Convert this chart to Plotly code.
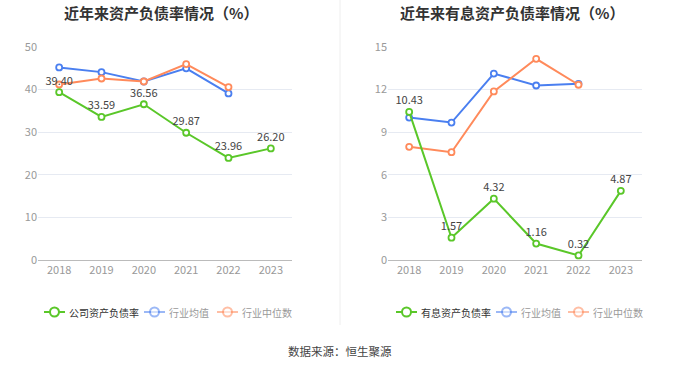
import plotly.graph_objects as go

years = ["2018", "2019", "2020", "2021", "2022", "2023"]
company_debt = [39.40, 33.59, 36.56, 29.87, 23.96, 26.20]
industry_avg_debt = [45.2, 44.1, 41.9, 45.0, 39.1]
industry_med_debt = [41.2, 42.6, 41.9, 46.0, 40.6]

company_int = [10.43, 1.57, 4.32, 1.16, 0.32, 4.87]
industry_avg_int = [10.03, 9.68, 13.13, 12.29, 12.41]
industry_med_int = [7.97, 7.59, 11.87, 14.17, 12.34]

GREEN = "#5ac729"
BLUE = "#4a7ff0"
ORANGE = "#ff8a5b"
FONT = "Noto Sans CJK SC"

fig = go.Figure()

def add_series(x, y, color, xa, ya, labels=False):
    fig.add_trace(go.Scatter(
        x=x, y=y, xaxis=xa, yaxis=ya,
        mode="lines+markers+text" if labels else "lines+markers",
        line=dict(color=color, width=2),
        marker=dict(symbol="circle", size=6, color="white",
                    line=dict(color=color, width=1.8)),
        text=[f"{v:.2f}" for v in y] if labels else None,
        textposition="top center",
        textfont=dict(family=FONT, size=11, color="#444"),
        showlegend=False, hoverinfo="skip", cliponaxis=False,
    ))

add_series(years[:5], industry_avg_debt, BLUE, "x", "y")
add_series(years[:5], industry_med_debt, ORANGE, "x", "y")
add_series(years, company_debt, GREEN, "x", "y", labels=True)
add_series(years[:5], industry_avg_int, BLUE, "x2", "y2")
add_series(years[:5], industry_med_int, ORANGE, "x2", "y2")
add_series(years, company_int, GREEN, "x2", "y2", labels=True)

ydom = [1 - 260 / 367, 1 - 47 / 367]
axis_x = dict(type="category", categoryorder="array", categoryarray=years,
              range=[-0.5, 5.5], showgrid=False, showline=True, linecolor="#bbbbbb",
              linewidth=1, ticks="", tickfont=dict(family=FONT, size=11, color="#999"),
              zeroline=False, fixedrange=True, automargin=False)
axis_y = dict(showgrid=True, gridcolor="#e6eaf2", gridwidth=1, zeroline=False,
              showline=False, tickfont=dict(family=FONT, size=11, color="#999"),
              ticks="", domain=ydom, fixedrange=True, automargin=False)

fig.update_layout(
    width=680, height=367,
    margin=dict(l=0, r=0, t=0, b=0, autoexpand=False),
    paper_bgcolor="white", plot_bgcolor="white",
    xaxis=dict(axis_x, domain=[38 / 680, 292 / 680], anchor="y"),
    yaxis=dict(axis_y, range=[0, 50], tickvals=[0, 10, 20, 30, 40, 50], anchor="x"),
    xaxis2=dict(axis_x, domain=[388 / 680, 642 / 680], anchor="y2"),
    yaxis2=dict(axis_y, range=[0, 15], tickvals=[0, 3, 6, 9, 12, 15], anchor="x2"),
    font=dict(family=FONT),
)

def px(x):
    return x / 680

def py(y):
    return 1 - y / 367

shapes = []
annotations = []

# titles
annotations.append(dict(text="<b>近年来资产负债率情况（%）</b>", x=px(161), y=py(12),
                        xref="paper", yref="paper", showarrow=False, xanchor="center",
                        yanchor="middle",
                        font=dict(family=FONT, size=15, color="#333")))
annotations.append(dict(text="<b>近年来有息资产负债率情况（%）</b>", x=px(512), y=py(12),
                        xref="paper", yref="paper", showarrow=False, xanchor="center",
                        yanchor="middle",
                        font=dict(family=FONT, size=15, color="#333")))

# divider
shapes.append(dict(type="line", xref="paper", yref="paper", x0=px(340), x1=px(340),
                   y0=py(0), y1=py(325), line=dict(color="#eeeeee", width=1)))

def legend_item(x, label, color, textcolor, faded):
    op = 0.55 if faded else 1.0
    shapes.append(dict(type="line", xref="paper", yref="paper", x0=px(x), x1=px(x + 21),
                       y0=py(312), y1=py(312), line=dict(color=color, width=2), opacity=op))
    shapes.append(dict(type="circle", xref="paper", yref="paper", x0=px(x + 6), x1=px(x + 15),
                       y0=py(316.5), y1=py(307.5), line=dict(color=color, width=2),
                       fillcolor="white", opacity=op))
    annotations.append(dict(text=label, x=px(x + 23), y=py(312), xref="paper", yref="paper",
                            xanchor="left", yanchor="middle", showarrow=False,
                            font=dict(family=FONT, size=10, color=textcolor)))

legend_item(44, "公司资产负债率", GREEN, "#333", False)
legend_item(144, "行业均值", BLUE, "#999", True)
legend_item(217, "行业中位数", ORANGE, "#999", True)
legend_item(396, "有息资产负债率", GREEN, "#333", False)
legend_item(496, "行业均值", BLUE, "#999", True)
legend_item(568, "行业中位数", ORANGE, "#999", True)

annotations.append(dict(text="数据来源：恒生聚源", x=px(340), y=py(351), xref="paper", yref="paper",
                        showarrow=False, xanchor="center", yanchor="middle",
                        font=dict(family=FONT, size=11.5, color="#444")))

fig.update_layout(shapes=shapes, annotations=annotations)
fig.write_html("out.html", config={"displayModeBar": False, "staticPlot": True},
               post_script="document.body.style.margin='0';document.body.style.padding='0';")
